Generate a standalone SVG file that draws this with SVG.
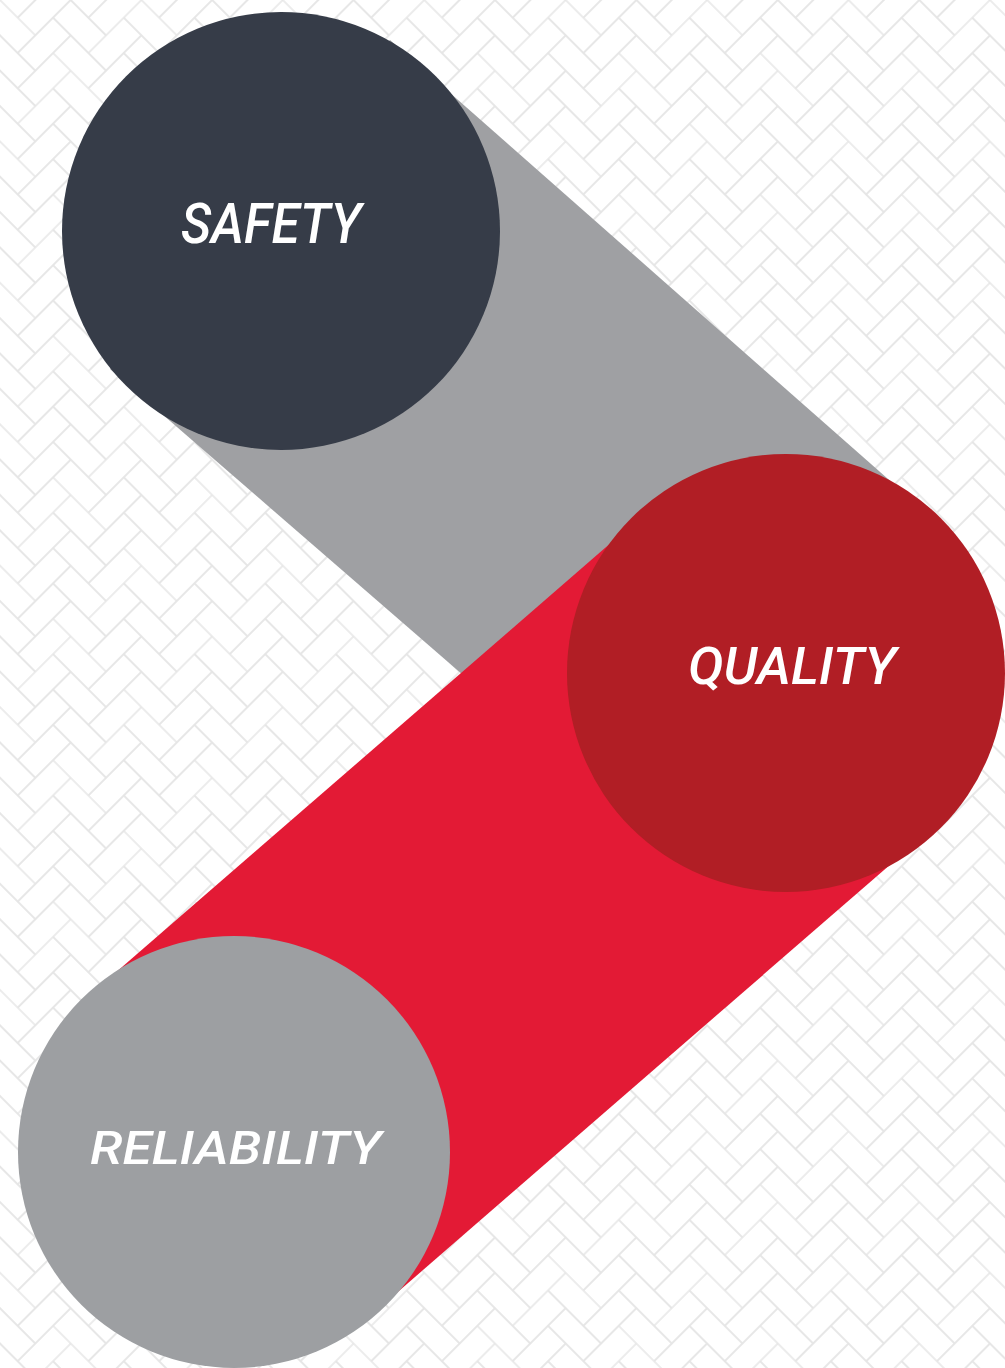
<svg xmlns="http://www.w3.org/2000/svg" width="1005" height="1368" viewBox="0 0 1005 1368">
  <defs>
    <style>
      .brick { fill: none; stroke: #e6e6e6; stroke-width: 1.5; }
      .label { font-family: Roboto, "Liberation Sans", sans-serif; font-style: italic; font-weight: 500; fill: #ffffff; }
    </style>
    <pattern id="herring" patternUnits="userSpaceOnUse" width="100" height="100" patternTransform="rotate(45)">
      <rect x="0" y="0" width="100" height="100" fill="#ffffff"/>
      <rect class="brick" x="0" y="0" width="50" height="25"/>
      <rect class="brick" x="25" y="25" width="50" height="25"/>
      <rect class="brick" x="50" y="50" width="50" height="25"/>
      <rect class="brick" x="75" y="75" width="50" height="25"/>
      <rect class="brick" x="-25" y="75" width="50" height="25"/>
      <rect class="brick" x="0" y="25" width="25" height="50"/>
      <rect class="brick" x="25" y="50" width="25" height="50"/>
      <rect class="brick" x="50" y="75" width="25" height="50"/>
      <rect class="brick" x="50" y="-25" width="25" height="50"/>
      <rect class="brick" x="75" y="0" width="25" height="50"/>
    </pattern>
  </defs>

  <rect id="background" x="0" y="0" width="1005" height="1368" fill="url(#herring)"/>

  <g id="connectors">
    <polygon id="band-safety-quality" points="390,40 926.3,512.7 645.7,833.3 110,369" fill="#9fa0a3"/>
    <polygon id="band-reliability-quality" points="94.4,991.1 646.4,512.1 925.6,833.9 373.6,1312.9" fill="#e31a35"/>
  </g>

  <g id="node-safety">
    <circle cx="281" cy="231" r="219" fill="#363c48"/>
    <text class="label" x="181" y="243" font-size="56" textLength="180" lengthAdjust="spacingAndGlyphs">SAFETY</text>
  </g>

  <g id="node-quality">
    <circle cx="786" cy="673" r="219" fill="#b11e25"/>
    <text class="label" x="688" y="684" font-size="51" textLength="208" lengthAdjust="spacingAndGlyphs">QUALITY</text>
  </g>

  <g id="node-reliability">
    <circle cx="234" cy="1152" r="216" fill="#9d9fa2"/>
    <text class="label" x="90" y="1164" font-size="46" textLength="291" lengthAdjust="spacingAndGlyphs">RELIABILITY</text>
  </g>
</svg>
